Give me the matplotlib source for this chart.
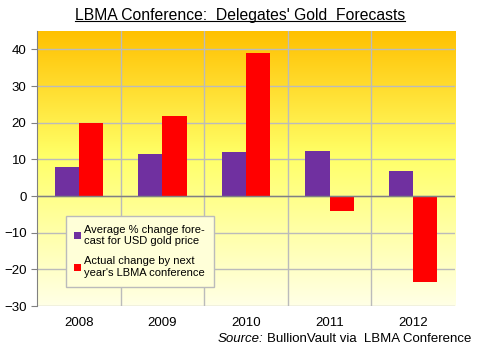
import matplotlib
matplotlib.use("Agg")
import matplotlib.pyplot as plt
import numpy as np
from matplotlib.colors import LinearSegmentedColormap

plt.rcParams["font.family"] = ["Liberation Sans", "DejaVu Sans"]

years = ["2008", "2009", "2010", "2011", "2012"]
forecast = [7.9, 11.4, 12.0, 12.3, 6.8]
actual = [19.9, 21.8, 39.0, -4.0, -23.4]

fig = plt.figure(figsize=(4.8, 3.49), dpi=100)
ax = fig.add_axes([0.077, 0.123, 0.871, 0.788])
ax.set_xlim(-0.5, 4.5)
ax.set_ylim(-30, 45)

cmap = LinearSegmentedColormap.from_list("g", [(0, "#FFFFE6"), (0.55, "#FFFF66"), (1.0, "#FFC000")])
grad = np.linspace(0, 1, 256).reshape(-1, 1)
ax.imshow(grad, aspect="auto", cmap=cmap, origin="lower",
          extent=[-0.5, 4.5, -30, 45], zorder=0)

for yv in range(-30, 50, 10):
    ax.axhline(yv, color="#BBBBBB", lw=1, zorder=1)
for xv in np.arange(0.5, 4.5, 1):
    ax.axvline(xv, color="#BBBBBB", lw=1, zorder=1)
ax.axhline(0, color="#808080", lw=1, zorder=3)

x = np.arange(len(years))
w = 0.29
ax.bar(x - w / 2, forecast, w, color="#7030A0", zorder=2,
       label="Average % change fore-\ncast for USD gold price")
ax.bar(x + w / 2, actual, w, color="#FF0000", zorder=2,
       label="Actual change by next\nyear's LBMA conference")

ax.set_xticks(x)
ax.set_xticklabels(years)
ax.set_yticks(range(-30, 50, 10))
ax.tick_params(axis="both", labelsize=9.5, colors="#000000", length=4, color="#808080")
ax.tick_params(axis="x", length=0, pad=8)
for s in ["top", "right"]:
    ax.spines[s].set_visible(False)
ax.spines["bottom"].set_visible(False)
ax.spines["left"].set_color("#808080")

leg = ax.legend(loc="lower left", bbox_to_anchor=(0.055, 0.05), fontsize=8,
                frameon=True, fancybox=False, handlelength=0.6, handleheight=0.6,
                handletextpad=0.3, labelspacing=0.9, borderpad=0.8)
leg.get_frame().set_facecolor("#FFFFD8")
leg.get_frame().set_edgecolor("#BBBBBB")
leg.get_frame().set_alpha(1)

t = fig.text(0.5, 0.955, "LBMA Conference:  Delegates' Gold  Forecasts", ha="center",
             va="center", fontsize=11.3)
src = fig.text(0.983, 0.03, "BullionVault via  LBMA Conference", ha="right", va="center",
               fontsize=9.5)
fig.canvas.draw()
inv = fig.transFigure.inverted()
sb = src.get_window_extent()
sx0 = inv.transform([[sb.x0, sb.y0]])[0][0]
fig.text(sx0 - 0.008, 0.03, "Source:", ha="right", va="center", fontsize=9.5,
         style="italic")
bb = t.get_window_extent()
(x0, y0), (x1, y1) = inv.transform([[bb.x0, bb.y0], [bb.x1, bb.y1]])
fig.add_artist(plt.Line2D([x0, x1], [y0 + 0.006, y0 + 0.006], color="black", lw=0.8,
                          transform=fig.transFigure))
fig.savefig("out.png", dpi=100)
